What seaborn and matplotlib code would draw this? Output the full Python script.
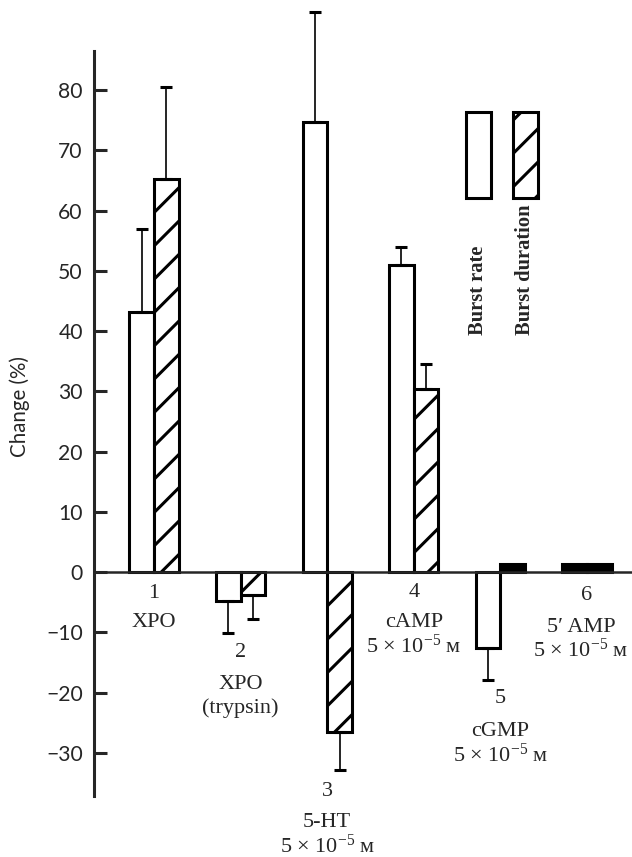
import pandas as pd
import seaborn as sns
import matplotlib.pyplot as plt
from matplotlib.patches import Rectangle

# values (change in %)
groups = ["1", "2", "3", "4", "5", "6"]
burst_rate = [43.2, -4.8, 74.7, 51.0, -12.6, 1.4]
burst_rate_err = [13.7, 5.3, 18.2, 3.0, 5.3, 0]
burst_duration = [65.2, -3.8, -26.5, 30.4, 1.4, 1.4]
burst_duration_err = [15.3, 4.0, 6.3, 4.1, 0, 0]
measures = ["Burst rate", "Burst duration"]

# small-capital M for molar, as in the original
conc = "5 \u00d7 10$^{-5}$ \u1d0d"
group_names = [["XPO"], ["XPO", "(trypsin)"], ["5-HT", conc],
               ["cAMP", conc], ["cGMP", conc], ["5\u2032 AMP", conc]]

# where the labels sit under each group (data units)
number_y = [-3.6, -13.4, -36.4, -3.3, -20.9, -3.8]
name_y = [-8.4, -18.7, -41.6, -8.4, -26.5, -9.1]
name_dx = [0, 0, 0, 0, 0, -0.07]
line_step = 3.9

df = pd.DataFrame({
    "group": groups * 2,
    "measure": [measures[0]] * 6 + [measures[1]] * 6,
    "value": burst_rate + burst_duration,
})

sns.set_style("ticks")
plt.rcParams["font.family"] = ["Lato", "DejaVu Sans"]
plt.rcParams["mathtext.fontset"] = "custom"
plt.rcParams["mathtext.rm"] = "Liberation Serif"
plt.rcParams["mathtext.it"] = "Liberation Serif:italic"
plt.rcParams["hatch.linewidth"] = 1.1
plt.rcParams["hatch.color"] = "black"

fig = plt.figure(figsize=(3.16, 4.285), dpi=200)
ax = fig.add_axes([0.1487, 0.0707, 0.8513, 0.9226])

sns.barplot(data=df, x="group", y="value", hue="measure",
            palette={measures[0]: "white", measures[1]: "white"},
            saturation=1, width=0.57, edgecolor="black", linewidth=1.1,
            errorbar=None, legend=False, ax=ax)

for p in ax.containers[1]:
    p.set_hatch("//")
for cont in ax.containers:
    for p in cont:
        if abs(p.get_height()) < 2:
            p.set_facecolor("black")

# one-sided error bars, away from zero
for cont, vals, errs in zip(ax.containers, [burst_rate, burst_duration],
                            [burst_rate_err, burst_duration_err]):
    for p, v, e in zip(cont, vals, errs):
        if e == 0:
            continue
        xc = p.get_x() + p.get_width() / 2
        yerr = [[0], [e]] if v > 0 else [[e], [0]]
        ax.errorbar(xc, v, yerr=yerr, fmt="none", ecolor="black",
                    elinewidth=0.6, capsize=2.0, capthick=1.1)

ax.set_xlim(-0.693, 5.52)
ax.set_ylim(-37.2, 94)
ax.set_yticks(range(-30, 90, 10))
ax.set_xlabel("")
ax.set_ylabel("")
ax.tick_params(axis="y", direction="in", length=4.7, width=1.1, pad=4,
               labelsize=7.6)
ax.tick_params(axis="x", bottom=False, labelbottom=False)
ax.spines["top"].set_visible(False)
ax.spines["right"].set_visible(False)
ax.spines["bottom"].set_position(("data", 0))
ax.spines["bottom"].set_linewidth(0.9)
ax.spines["left"].set_linewidth(1.1)
ax.spines["left"].set_bounds(-37.2, 86.5)

serif = ["Liberation Serif", "DejaVu Serif"]
for i, (num, names) in enumerate(zip(groups, group_names)):
    ax.text(i, number_y[i], num, ha="center", va="center",
            fontsize=8, family=serif)
    for k, line in enumerate(names):
        ax.text(i + name_dx[i], name_y[i] - k * line_step, line,
                ha="center", va="center", fontsize=8, family=serif)

# legend: tall keys with rotated captions underneath
for x0, hatch, label, xt in [(0.6914, "", measures[0], 0.7138),
                             (0.7788, "//", measures[1], 0.8011)]:
    ax.add_patch(Rectangle((x0, 0.7568), 0.0465, 0.1088, transform=ax.transAxes,
                           facecolor="white", edgecolor="black", linewidth=1.1,
                           hatch=hatch, clip_on=False))
    ax.text(xt, 0.5835, label, transform=ax.transAxes, rotation=90,
            ha="center", va="bottom", fontsize=7.4, family=serif,
            fontweight="bold")

fig.text(20 / 632, 1 - 407 / 857, "Change (%)", rotation=90, ha="center",
         va="center", fontsize=7.4)

fig.savefig("out.png", dpi=200)
